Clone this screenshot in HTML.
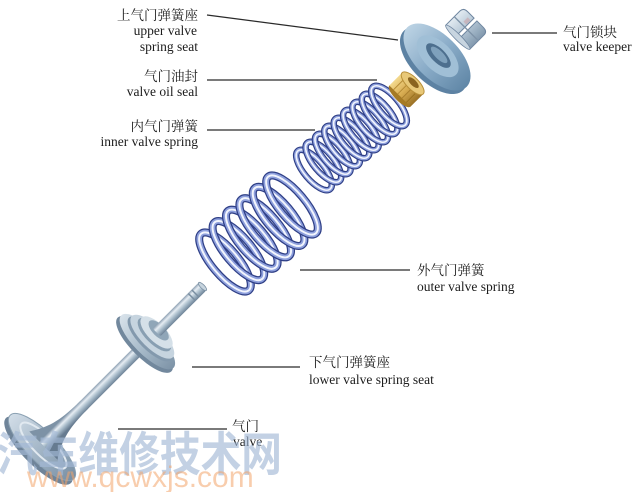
<!DOCTYPE html>
<html><head><meta charset="utf-8">
<style>
html,body{margin:0;padding:0;background:#fff;}
svg{display:block;}
.lb{font-family:"Liberation Serif","Noto Serif CJK SC",serif;font-size:13.5px;fill:#1c1c1c;}
</style></head><body>
<svg width="640" height="492" viewBox="0 0 640 492" xmlns="http://www.w3.org/2000/svg">
<defs>
 <linearGradient id="stem" x1="0" y1="-6" x2="0" y2="6" gradientUnits="userSpaceOnUse">
  <stop offset="0" stop-color="#7d92a6"/>
  <stop offset="0.3" stop-color="#e6edf3"/>
  <stop offset="0.6" stop-color="#a9bccb"/>
  <stop offset="1" stop-color="#667b90"/>
 </linearGradient>
 <linearGradient id="head" x1="0" y1="-46" x2="0" y2="46" gradientUnits="userSpaceOnUse">
  <stop offset="0" stop-color="#d3dee8"/>
  <stop offset="0.5" stop-color="#a3b6c7"/>
  <stop offset="1" stop-color="#778ea3"/>
 </linearGradient>
 <linearGradient id="seat" x1="0" y1="-38" x2="0" y2="38" gradientUnits="userSpaceOnUse">
  <stop offset="0" stop-color="#d9e3eb"/>
  <stop offset="0.5" stop-color="#a9bccb"/>
  <stop offset="1" stop-color="#7c92a6"/>
 </linearGradient>
 <linearGradient id="blue" x1="0" y1="-43" x2="0" y2="43" gradientUnits="userSpaceOnUse">
  <stop offset="0" stop-color="#bcd3e4"/>
  <stop offset="0.5" stop-color="#8aacc8"/>
  <stop offset="1" stop-color="#5f86a6"/>
 </linearGradient>
 <linearGradient id="gold" x1="0" y1="-15" x2="0" y2="15" gradientUnits="userSpaceOnUse">
  <stop offset="0" stop-color="#f4da8e"/>
  <stop offset="0.5" stop-color="#d7ab50"/>
  <stop offset="1" stop-color="#9a7126"/>
 </linearGradient>
 <linearGradient id="keep" x1="0" y1="-17" x2="0" y2="17" gradientUnits="userSpaceOnUse">
  <stop offset="0" stop-color="#e3ebf1"/>
  <stop offset="0.5" stop-color="#b3c5d4"/>
  <stop offset="1" stop-color="#8299ae"/>
 </linearGradient>
 <g id="oc">
  <ellipse rx="37" ry="13" fill="none" stroke="#2f3f86" stroke-width="8"/>
  <ellipse rx="37" ry="13" fill="none" stroke="#8d9fdc" stroke-width="5.5"/>
  <ellipse rx="37" ry="13" fill="none" stroke="#f2f5fd" stroke-width="2"/>
 </g>
 <g id="ic">
  <ellipse rx="25" ry="10" fill="none" stroke="#2f3f86" stroke-width="6.5"/>
  <ellipse rx="25" ry="10" fill="none" stroke="#8d9fdc" stroke-width="4.2"/>
  <ellipse rx="25" ry="10" fill="none" stroke="#f2f5fd" stroke-width="1.6"/>
 </g>
</defs>

<!-- Valve -->
<g transform="translate(42,447) rotate(-45)">
 <ellipse cx="-5" cy="0" rx="15" ry="46" fill="#6f8499"/>
 <ellipse cx="0" cy="0" rx="15" ry="45" fill="url(#head)" stroke="#8aa0b2" stroke-width="1"/>
 <ellipse cx="2" cy="0" rx="10" ry="31" fill="none" stroke="#e1e9f0" stroke-width="2"/>
 <path d="M2,-20 C20,-8 35,-5.5 60,-5.5 L60,5.5 C35,5.5 20,8 2,20 Z" fill="url(#stem)"/>
 <rect x="55" y="-5.5" width="110" height="11" fill="url(#stem)"/>
 <!-- lower spring seat -->
 <ellipse cx="145" rx="13" ry="38" fill="#72889d"/>
 <ellipse cx="149" rx="13" ry="37" fill="url(#seat)"/>
 <ellipse cx="153" rx="11" ry="30" fill="#8399ad"/>
 <ellipse cx="156" rx="11" ry="29" fill="#c6d4df"/>
 <ellipse cx="159" rx="9" ry="22" fill="#889fb2"/>
 <ellipse cx="162" rx="9" ry="21" fill="#d5e0e8"/>
 <ellipse cx="165" rx="6" ry="13" fill="#90a6b8"/>
 <rect x="162" y="-5.5" width="65" height="11" rx="2" fill="url(#stem)"/>
 <line x1="212" y1="-5" x2="212" y2="5" stroke="#7a8fa2" stroke-width="1.5"/>
 <line x1="217" y1="-5" x2="217" y2="5" stroke="#7a8fa2" stroke-width="1.5"/>
 <ellipse cx="227" rx="2" ry="5.5" fill="#c7d4de" stroke="#7a8fa2" stroke-width="0.8"/>
</g>

<!-- Outer spring -->
<use href="#oc" transform="translate(225,262) rotate(50)"/>
<use href="#oc" transform="translate(238.4,250.6) rotate(50)"/>
<use href="#oc" transform="translate(251.8,239.2) rotate(50)"/>
<use href="#oc" transform="translate(265.2,227.8) rotate(50)"/>
<use href="#oc" transform="translate(278.6,216.4) rotate(50)"/>
<use href="#oc" transform="translate(292,205) rotate(50)"/>

<!-- Inner spring -->
<use href="#ic" transform="translate(314,170) rotate(50)"/>
<use href="#ic" transform="translate(323.4,162) rotate(50)"/>
<use href="#ic" transform="translate(332.8,154) rotate(50)"/>
<use href="#ic" transform="translate(342.1,146) rotate(50)"/>
<use href="#ic" transform="translate(351.5,138) rotate(50)"/>
<use href="#ic" transform="translate(360.9,130) rotate(50)"/>
<use href="#ic" transform="translate(370.2,122) rotate(50)"/>
<use href="#ic" transform="translate(379.6,114) rotate(50)"/>
<use href="#ic" transform="translate(389,106) rotate(50)"/>

<!-- Oil seal -->
<g transform="translate(407,89) rotate(-45)">
 <ellipse cx="-10" rx="5" ry="15" fill="#a57a25"/>
 <rect x="-10" y="-15" width="18" height="30" fill="url(#gold)"/>
 <line x1="-10" y1="-9" x2="8" y2="-9" stroke="#b58a35" stroke-width="1"/>
 <line x1="-10" y1="-3" x2="8" y2="-3" stroke="#b58a35" stroke-width="1"/>
 <line x1="-10" y1="3" x2="8" y2="3" stroke="#a87d2c" stroke-width="1"/>
 <line x1="-10" y1="9" x2="8" y2="9" stroke="#97701f" stroke-width="1"/>
 <ellipse cx="8" rx="6" ry="15" fill="#e8c878" stroke="#b88f38" stroke-width="1"/>
 <ellipse cx="9" rx="3" ry="7" fill="#8a6420"/>
</g>

<!-- Upper spring seat -->
<g transform="translate(437,57) rotate(-45)">
 <ellipse cx="-12" rx="14" ry="30" fill="#54789a"/>
 <ellipse cx="-5" rx="22" ry="42" fill="#5d82a3"/>
 <ellipse cx="0" rx="22" ry="42" fill="url(#blue)"/>
 <ellipse cx="1" rx="14" ry="26" fill="#a0bfd6"/>
 <ellipse cx="2" rx="7" ry="16" fill="#4d6f8e"/>
 <ellipse cx="3" rx="4" ry="11" fill="#7fa1bc"/>
</g>

<!-- Valve keeper -->
<g transform="translate(467,28) rotate(-45)">
 <path d="M-13,-17 L7,-17 Q12,-17 12,-11 L12,-2 L-13,-2 Z" fill="url(#keep)" stroke="#6f86a0" stroke-width="1"/>
 <path d="M-13,2 L12,2 L12,11 Q12,17 7,17 L-13,17 Z" fill="url(#keep)" stroke="#6f86a0" stroke-width="1"/>
 <line x1="-1" y1="-17" x2="-1" y2="17" stroke="#7e93a8" stroke-width="1.4"/>
 <ellipse cx="-13" rx="3" ry="17" fill="#c8d5e0" stroke="#6f86a0" stroke-width="0.8"/>
 <rect x="2" y="-7" width="6" height="4" fill="#c9a3a8" opacity="0.6"/>
</g>

<!-- leader lines -->
<g stroke="#2a2a2a" stroke-width="1.2">
 <line x1="207" y1="15" x2="398" y2="40"/>
 <line x1="207" y1="80" x2="377" y2="80"/>
 <line x1="207" y1="130" x2="315" y2="130"/>
 <line x1="492" y1="33" x2="557" y2="33"/>
 <line x1="300" y1="270" x2="410" y2="270"/>
 <line x1="192" y1="367" x2="300" y2="367"/>
 <line x1="118" y1="429" x2="227" y2="429"/>
</g>

<!-- labels -->
<text class="lb" x="198" y="20" text-anchor="end">上气门弹簧座</text>
<text class="lb" x="197" y="35" text-anchor="end">upper valve</text>
<text class="lb" x="198" y="51" text-anchor="end">spring seat</text>
<text class="lb" x="198" y="81" text-anchor="end">气门油封</text>
<text class="lb" x="198" y="96" text-anchor="end">valve oil seal</text>
<text class="lb" x="198" y="131" text-anchor="end">内气门弹簧</text>
<text class="lb" x="198" y="146" text-anchor="end">inner valve spring</text>
<text class="lb" x="563" y="37">气门锁块</text>
<text class="lb" x="563" y="51">valve keeper</text>
<text class="lb" x="417" y="275">外气门弹簧</text>
<text class="lb" x="417" y="291">outer valve spring</text>
<text class="lb" x="309" y="367">下气门弹簧座</text>
<text class="lb" x="309" y="384">lower valve spring seat</text>
<text class="lb" x="232" y="431">气门</text>
<text class="lb" x="233" y="446">valve</text>

<!-- watermark -->
<text x="-3" y="471" font-family="'Noto Sans CJK SC',sans-serif" font-weight="bold" font-size="47" fill="#a3b8d6" fill-opacity="0.65" textLength="285" lengthAdjust="spacingAndGlyphs">汽车维修技术网</text>
<text x="27" y="487" font-family="'Liberation Sans',sans-serif" font-size="30" fill="#f2a46a" fill-opacity="0.55">www.qcwxjs.com</text>
</svg>
</body></html>
